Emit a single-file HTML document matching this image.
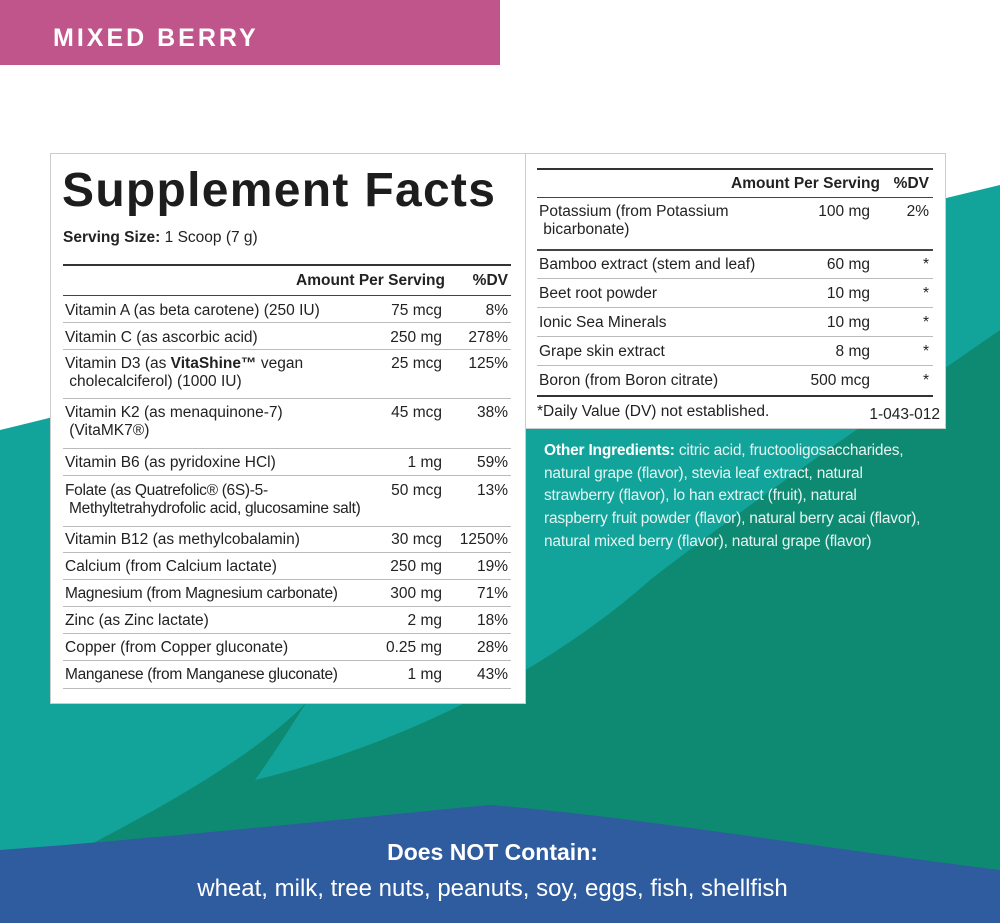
<!DOCTYPE html>
<html><head><meta charset="utf-8"><style>
*{margin:0;padding:0;box-sizing:border-box}
body{width:1000px;height:923px;position:relative;overflow:hidden;background:#fff;font-family:"Liberation Sans",sans-serif;color:#222}
.t{position:absolute;font-size:15.5px;white-space:nowrap;line-height:18px}
.r{text-align:right}
.l{position:absolute;height:1px;background:#bbb}
.k{position:absolute;height:2px;background:#333}
.oi{position:absolute;left:544px;top:440px;white-space:nowrap;color:#e6f4f1;font-size:15.5px;line-height:22.7px;letter-spacing:-0.2px}
</style></head><body>
<svg width="1000" height="923" style="position:absolute;left:0;top:0">
<path d="M0,430 C150,395 350,330 525,300 L1000,185 L1000,923 L0,923 Z" fill="#12a49b"/>
<path d="M1000,330 C870,420 740,510 650,580 C560,660 420,740 255,780 C280,745 295,720 306,703 C250,760 150,815 40,870 L0,890 L0,923 L1000,923 Z" fill="#0e8a72"/>
<path d="M0,850 C200,835 380,815 490,805 C620,815 800,845 1000,870 L1000,923 L0,923 Z" fill="#2f5b9f"/>
</svg>
<div style="position:absolute;left:0;top:0;width:500px;height:65px;background:#c0558b"></div>
<div class="t" style="left:53px;top:24px;color:#fff;font-weight:bold;font-size:25px;letter-spacing:3px;line-height:28px">MIXED BERRY</div>

<div style="position:absolute;left:50px;top:153px;width:476px;height:551px;background:#fff;border:1px solid #ccc"></div>
<div style="position:absolute;left:525px;top:153px;width:421px;height:276px;background:#fff;border:1px solid #ccc"></div>

<div class="t" style="left:62px;top:166px;font-size:48px;font-weight:bold;line-height:50px;color:#1d1d1d;letter-spacing:1.3px">Supplement Facts</div>
<div class="t" style="left:63px;top:229px"><b>Serving Size:</b> 1 Scoop (7 g)</div>
<div class="k" style="left:63px;top:264px;width:448px"></div>
<div class="t r" style="left:200px;top:272px;width:245px;font-weight:bold">Amount Per Serving</div>
<div class="t r" style="left:450px;top:272px;width:58px;font-weight:bold">%DV</div>
<div class="l" style="left:63px;top:295px;width:448px;background:#444"></div>

<div class="t" style="left:65px;top:302px">Vitamin A (as beta carotene) (250 IU)</div><div class="t r" style="left:340px;top:302px;width:102px">75 mcg</div><div class="t r" style="left:450px;top:302px;width:58px">8%</div>
<div class="l" style="left:63px;top:322px;width:448px"></div>
<div class="t" style="left:65px;top:329px">Vitamin C (as ascorbic acid)</div><div class="t r" style="left:340px;top:329px;width:102px">250 mg</div><div class="t r" style="left:450px;top:329px;width:58px">278%</div>
<div class="l" style="left:63px;top:349px;width:448px"></div>
<div class="t" style="left:65px;top:355px">Vitamin D3 (as <b>VitaShine™</b> vegan<br>&nbsp;cholecalciferol) (1000 IU)</div><div class="t r" style="left:340px;top:355px;width:102px">25 mcg</div><div class="t r" style="left:450px;top:355px;width:58px">125%</div>
<div class="l" style="left:63px;top:398px;width:448px"></div>
<div class="t" style="left:65px;top:404px">Vitamin K2 (as menaquinone-7)<br>&nbsp;(VitaMK7®)</div><div class="t r" style="left:340px;top:404px;width:102px">45 mcg</div><div class="t r" style="left:450px;top:404px;width:58px">38%</div>
<div class="l" style="left:63px;top:448px;width:448px"></div>
<div class="t" style="left:65px;top:454px">Vitamin B6 (as pyridoxine HCl)</div><div class="t r" style="left:340px;top:454px;width:102px">1 mg</div><div class="t r" style="left:450px;top:454px;width:58px">59%</div>
<div class="l" style="left:63px;top:475px;width:448px"></div>
<div class="t" style="left:65px;top:482px;letter-spacing:-0.3px">Folate (as Quatrefolic® (6S)-5-<br>&nbsp;Methyltetrahydrofolic acid, glucosamine salt)</div><div class="t r" style="left:340px;top:482px;width:102px">50 mcg</div><div class="t r" style="left:450px;top:482px;width:58px">13%</div>
<div class="l" style="left:63px;top:526px;width:448px"></div>
<div class="t" style="left:65px;top:531px">Vitamin B12 (as methylcobalamin)</div><div class="t r" style="left:340px;top:531px;width:102px">30 mcg</div><div class="t r" style="left:450px;top:531px;width:58px">1250%</div>
<div class="l" style="left:63px;top:552px;width:448px"></div>
<div class="t" style="left:65px;top:558px">Calcium (from Calcium lactate)</div><div class="t r" style="left:340px;top:558px;width:102px">250 mg</div><div class="t r" style="left:450px;top:558px;width:58px">19%</div>
<div class="l" style="left:63px;top:579px;width:448px"></div>
<div class="t" style="left:65px;top:585px;letter-spacing:-0.3px">Magnesium (from Magnesium carbonate)</div><div class="t r" style="left:340px;top:585px;width:102px">300 mg</div><div class="t r" style="left:450px;top:585px;width:58px">71%</div>
<div class="l" style="left:63px;top:606px;width:448px"></div>
<div class="t" style="left:65px;top:612px">Zinc (as Zinc lactate)</div><div class="t r" style="left:340px;top:612px;width:102px">2 mg</div><div class="t r" style="left:450px;top:612px;width:58px">18%</div>
<div class="l" style="left:63px;top:633px;width:448px"></div>
<div class="t" style="left:65px;top:639px">Copper (from Copper gluconate)</div><div class="t r" style="left:340px;top:639px;width:102px">0.25 mg</div><div class="t r" style="left:450px;top:639px;width:58px">28%</div>
<div class="l" style="left:63px;top:660px;width:448px"></div>
<div class="t" style="left:65px;top:666px;letter-spacing:-0.3px">Manganese (from Manganese gluconate)</div><div class="t r" style="left:340px;top:666px;width:102px">1 mg</div><div class="t r" style="left:450px;top:666px;width:58px">43%</div>
<div class="l" style="left:63px;top:688px;width:448px"></div>

<div class="k" style="left:537px;top:168px;width:396px"></div>
<div class="t r" style="left:650px;top:175px;width:230px;font-weight:bold">Amount Per Serving</div>
<div class="t r" style="left:880px;top:175px;width:49px;font-weight:bold">%DV</div>
<div class="l" style="left:537px;top:197px;width:396px;background:#444"></div>
<div class="t" style="left:539px;top:203px">Potassium (from Potassium<br>&nbsp;bicarbonate)</div><div class="t r" style="left:770px;top:203px;width:100px">100 mg</div><div class="t r" style="left:880px;top:203px;width:49px">2%</div>
<div class="l" style="left:537px;top:249px;width:396px;background:#444;height:2px"></div>
<div class="t" style="left:539px;top:256px">Bamboo extract (stem and leaf)</div><div class="t r" style="left:770px;top:256px;width:100px">60 mg</div><div class="t r" style="left:880px;top:256px;width:49px">*</div>
<div class="l" style="left:537px;top:278px;width:396px"></div>
<div class="t" style="left:539px;top:285px">Beet root powder</div><div class="t r" style="left:770px;top:285px;width:100px">10 mg</div><div class="t r" style="left:880px;top:285px;width:49px">*</div>
<div class="l" style="left:537px;top:307px;width:396px"></div>
<div class="t" style="left:539px;top:314px">Ionic Sea Minerals</div><div class="t r" style="left:770px;top:314px;width:100px">10 mg</div><div class="t r" style="left:880px;top:314px;width:49px">*</div>
<div class="l" style="left:537px;top:336px;width:396px"></div>
<div class="t" style="left:539px;top:343px">Grape skin extract</div><div class="t r" style="left:770px;top:343px;width:100px">8 mg</div><div class="t r" style="left:880px;top:343px;width:49px">*</div>
<div class="l" style="left:537px;top:365px;width:396px"></div>
<div class="t" style="left:539px;top:372px">Boron (from Boron citrate)</div><div class="t r" style="left:770px;top:372px;width:100px">500 mcg</div><div class="t r" style="left:880px;top:372px;width:49px">*</div>
<div class="k" style="left:537px;top:395px;width:396px"></div>
<div class="t" style="left:537px;top:403px">*Daily Value (DV) not established.</div>
<div class="t r" style="left:820px;top:406px;width:120px">1-043-012</div>

<div class="oi"><b style="color:#fff">Other Ingredients:</b> citric acid, fructooligosaccharides,<br>natural grape (flavor), stevia leaf extract, natural<br>strawberry (flavor), lo han extract (fruit), natural<br>raspberry fruit powder (flavor), natural berry acai (flavor),<br>natural mixed berry (flavor), natural grape (flavor)</div>

<div class="t" style="left:0;width:985px;text-align:center;top:838px;color:#fff;font-weight:bold;font-size:23px;line-height:28px">Does NOT Contain:</div>
<div class="t" style="left:0;width:985px;text-align:center;top:874px;color:#fff;font-size:24px;line-height:30px">wheat, milk, tree nuts, peanuts, soy, eggs, fish, shellfish</div>
</body></html>
